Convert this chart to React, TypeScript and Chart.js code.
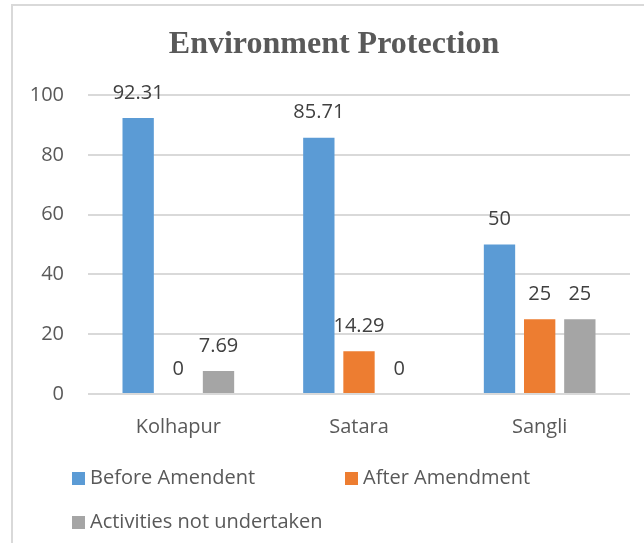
import React, { useEffect, useRef } from "react";
import { Chart, registerables } from "chart.js";

Chart.register(...registerables);

const TITLE = "Environment Protection";
const categories = ["Kolhapur", "Satara", "Sangli"];
const seriesNames = ["Before Amendent", "After Amendment", "Activities not undertaken"];
const beforeAmendment = [92.31, 85.71, 50];
const afterAmendment = [0, 14.29, 25];
const notUndertaken = [7.69, 0, 25];
const yTicks = [0, 20, 40, 60, 80, 100];
const colors = ["#5B9BD5", "#ED7D31", "#A5A5A5"];

const FONT = "'Open Sans', sans-serif";
const TEXT = "#595959";

const dataLabelPlugin = {
  id: "dataLabels",
  afterDatasetsDraw(chart: any) {
    const ctx = chart.ctx;
    ctx.save();
    ctx.font = `20px ${FONT}`;
    ctx.fillStyle = "#404040";
    ctx.textAlign = "center";
    ctx.textBaseline = "middle";
    chart.data.datasets.forEach((ds: any, i: number) => {
      const meta = chart.getDatasetMeta(i);
      meta.data.forEach((el: any, j: number) => {
        ctx.fillText(String(ds.data[j]), el.x, el.y - 25);
      });
    });
    ctx.restore();
  },
};

const titlePlugin = {
  id: "customTitle",
  afterDraw(chart: any) {
    const ctx = chart.ctx;
    ctx.save();
    ctx.font = `bold 32px 'Liberation Serif', 'Times New Roman', serif`;
    ctx.fillStyle = TEXT;
    ctx.textAlign = "center";
    ctx.textBaseline = "middle";
    ctx.fillText(TITLE, 334, 45);
    ctx.restore();
  },
};

const legendPlugin = {
  id: "customLegend",
  afterDraw(chart: any) {
    const ctx = chart.ctx;
    const slots = [
      { x: 72, y: 478 },
      { x: 345, y: 478 },
      { x: 72, y: 522 },
    ];
    ctx.save();
    ctx.font = `20px ${FONT}`;
    ctx.textBaseline = "middle";
    ctx.textAlign = "left";
    chart.data.datasets.forEach((ds: any, i: number) => {
      const s = slots[i];
      ctx.fillStyle = ds.backgroundColor;
      ctx.fillRect(s.x, s.y - 6, 13, 13);
      ctx.fillStyle = TEXT;
      ctx.fillText(ds.label, s.x + 18, s.y);
    });
    ctx.restore();
  },
};

export default function App() {
  const ref = useRef<HTMLCanvasElement>(null);

  useEffect(() => {
    if (!ref.current) return;
    const datasets = [beforeAmendment, afterAmendment, notUndertaken].map((d, i) => ({
      label: seriesNames[i],
      data: d,
      backgroundColor: colors[i],
      borderWidth: 0,
      categoryPercentage: 0.667,
      barPercentage: 0.78,
    }));
    const chart = new Chart(ref.current, {
      type: "bar",
      data: { labels: categories, datasets },
      options: {
        responsive: false,
        animation: false,
        layout: { padding: { left: 0, top: 95, right: 14, bottom: 0 } },
        plugins: {
          legend: { display: false },
          title: { display: false },
          tooltip: { enabled: false },
        },
        scales: {
          x: {
            grid: { display: false, drawTicks: false },
            border: { display: false },
            ticks: { color: TEXT, font: { family: FONT, size: 20 }, padding: 21 },
            afterFit(scale: any) {
              scale.height = 160;
            },
          },
          y: {
            min: yTicks[0],
            max: yTicks[yTicks.length - 1],
            afterBuildTicks(scale: any) {
              scale.ticks = yTicks.map((v) => ({ value: v }));
            },
            grid: { color: "#D9D9D9", lineWidth: 2, drawTicks: false },
            border: { display: false },
            ticks: { color: TEXT, font: { family: FONT, size: 20 }, padding: 24 },
            afterFit(scale: any) {
              scale.width = 88;
            },
          },
        },
      },
      plugins: [dataLabelPlugin, titlePlugin, legendPlugin],
    });
    return () => chart.destroy();
  }, []);

  return (
    <div style={{ position: "fixed", left: 0, top: 0, width: 644, height: 554, background: "#fff", overflow: "hidden" }}>
      <div
        style={{
          position: "absolute",
          left: 11,
          top: 4,
          width: 660,
          height: 539,
          borderTop: "2px solid #D9D9D9",
          borderLeft: "2px solid #D9D9D9",
          boxSizing: "border-box",
        }}
      />
      <canvas ref={ref} width={644} height={554} style={{ position: "absolute", left: 0, top: 0 }} />
    </div>
  );
}
